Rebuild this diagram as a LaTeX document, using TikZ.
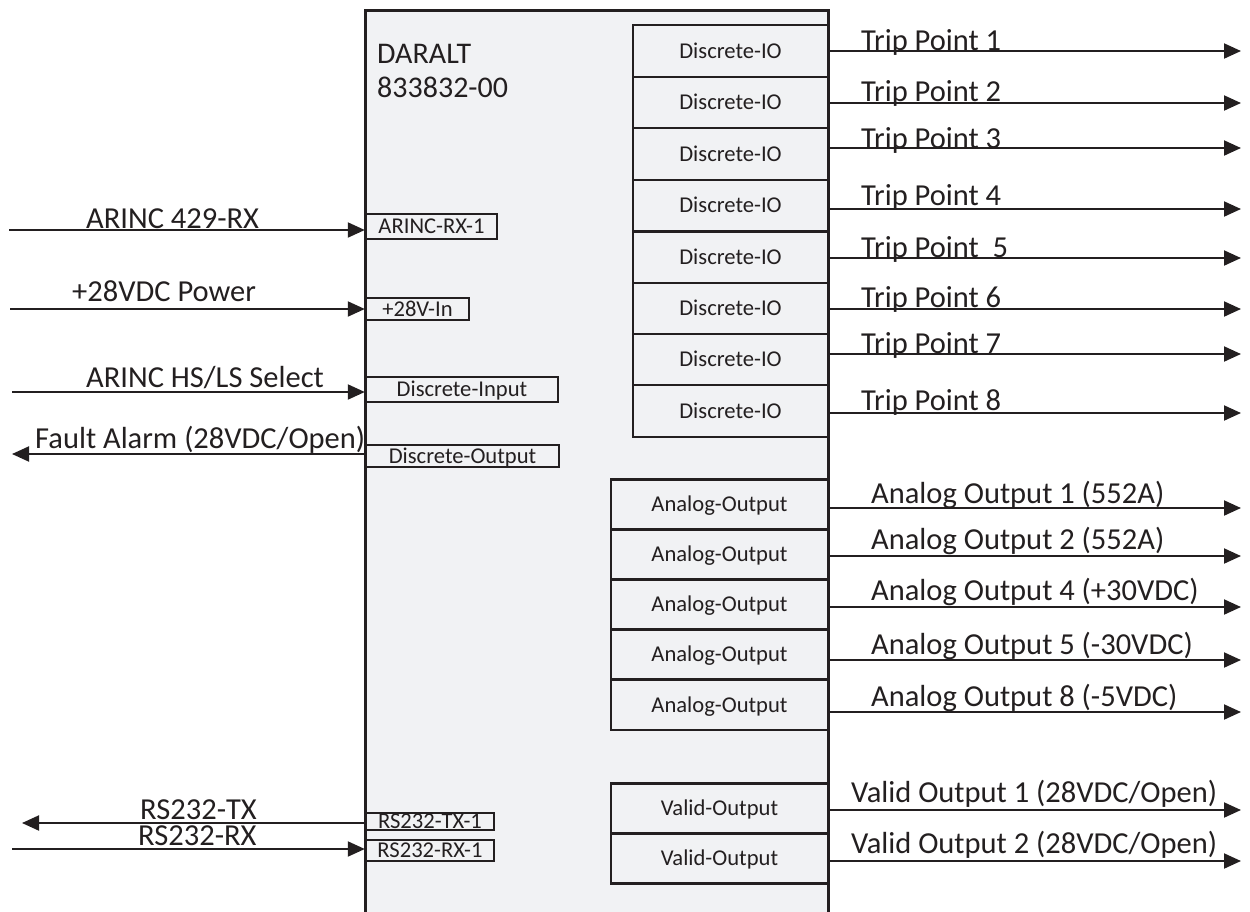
\documentclass[tikz,border=0pt]{standalone}
\usepackage{fontspec}
\setmainfont{Carlito}
\usetikzlibrary{arrows.meta}
\definecolor{ink}{HTML}{231F20}
\definecolor{panel}{HTML}{F1F2F4}

\begin{document}
\begin{tikzpicture}[x=1pt,y=-1pt,
  unitline/.style={draw=ink,line width=3pt},
  portbox/.style={draw=ink,fill=panel,line width=2.4pt,inner sep=0pt,
    font=\fontsize{22.6}{26}\selectfont,text=ink,text height=14.5pt,text depth=0pt},
  sig/.style={draw=ink,line width=2pt,-{Triangle[length=17pt,width=15pt]}},
  lbl/.style={font=\fontsize{30.5}{36}\selectfont,text=ink,inner sep=0pt,anchor=base west},
  title/.style={font=\fontsize{30}{36}\selectfont,text=ink,inner sep=0pt,anchor=base west},
]
\useasboundingbox (0,0) rectangle (1250,911);

% main unit (open at the bottom)
\fill[panel] (365,10) rectangle (828,920);
\coordinate (ubl) at (365,920);
\coordinate (utl) at (365,10);
\coordinate (utr) at (828,10);
\coordinate (ubr) at (828,920);
\draw[unitline] (ubl) -- (utl) -- (utr) -- (ubr);
\node[title] (name) at (377,63) {DARALT};
\node[title] (pn) at (377,97) {833832-00};

% left-side ports
\node[portbox,minimum width=131,minimum height=25] (arx) at (431.5,226.5) {ARINC-RX-1};
\node[portbox,minimum width=103,minimum height=22] (p28) at (417.5,309) {+28V-In};
\node[portbox,minimum width=192,minimum height=25] (din) at (462,389.5) {Discrete-Input};
\node[portbox,minimum width=193,minimum height=22] (dout) at (462.5,456) {Discrete-Output};
\node[portbox,minimum width=128,minimum height=17.5] (tx) at (430,821.5) {RS232-TX-1};
\node[portbox,minimum width=128,minimum height=21] (rx) at (430,850.5) {RS232-RX-1};

% discrete I/O stack
\foreach \i/\cy in {1/51,2/102.5,3/154,4/205.5,5/257.5,6/308.5,7/359.5,8/411}
  \node[portbox,minimum width=195,minimum height=51.5] (dio\i) at (730.5,\cy) {Discrete-IO};

% analog output stack
\foreach \i/\cy in {1/504.5,2/554.5,3/604.5,4/654.5,5/705}
  \node[portbox,minimum width=217,minimum height=50] (ao\i) at (719.5,\cy) {Analog-Output};

% valid output stack
\foreach \i/\cy in {1/808.5,2/858.5}
  \node[portbox,minimum width=217,minimum height=50] (vo\i) at (719.5,\cy) {Valid-Output};

% left-side signals
\coordinate (arxs) at (9,230);
\coordinate (p28s) at (10,309);
\coordinate (dins) at (12,392);
\coordinate (faulte) at (12,454);
\coordinate (txe) at (22,823);
\coordinate (rxs) at (12,849);
\draw[sig] (arxs) -- (arx.west |- arxs);
\draw[sig] (p28s) -- (p28.west |- p28s);
\draw[sig] (dins) -- (din.west |- dins);
\draw[sig] (dout.west |- faulte) -- (faulte);
\draw[sig] (tx.west |- txe) -- (txe);
\draw[sig] (rxs) -- (rx.west |- rxs);

\node[lbl] (arxl) at (86,228) {ARINC 429-RX};
\node[lbl] (p28l) at (72,301) {+28VDC Power};
\node[lbl] (dinl) at (86,387) {ARINC HS/LS Select};
\node[lbl] (doutl) at (35,448) {Fault Alarm (28VDC/Open)};
\node[lbl,text height=19.6pt,text depth=0pt] (txl) at (140,819) {RS232-TX};
\node[lbl,text height=19.6pt,text depth=0pt] (rxl) at (138,845) {RS232-RX};

% trip point outputs
\foreach \i/\ly/\by/\txt in {1/51/50/{Trip Point 1},2/103/101/{Trip Point 2},3/148/148/{Trip Point 3},
    4/209/205/{Trip Point 4},5/258/257/{Trip Point\ \ 5},6/309/307/{Trip Point 6},
    7/354/353/{Trip Point 7},8/413/410/{Trip Point 8}}{
  \coordinate (tp\i) at (1241,\ly);
  \draw[sig] (dio\i.east |- tp\i) -- (tp\i);
  \node[lbl] (tpl\i) at (861,\by) {\txt};
}

% analog outputs
\foreach \i/\ly/\by/\txt in {1/508/503/{Analog Output 1 (552A)},2/556/549/{Analog Output 2 (552A)},
    3/607/600/{Analog Output 4 (+30VDC)},4/660/654/{Analog Output 5 (-30VDC)},
    5/712/706/{Analog Output 8 (-5VDC)}}{
  \coordinate (aot\i) at (1241,\ly);
  \draw[sig] (ao\i.east |- aot\i) -- (aot\i);
  \node[lbl] (aol\i) at (871,\by) {\txt};
}

% valid outputs
\foreach \i/\ly/\by/\txt in {1/810/802/{Valid Output 1 (28VDC/Open)},2/861/853/{Valid Output 2 (28VDC/Open)}}{
  \coordinate (vot\i) at (1241,\ly);
  \draw[sig] (vo\i.east |- vot\i) -- (vot\i);
  \node[lbl] (vol\i) at (851,\by) {\txt};
}
\end{tikzpicture}
\end{document}
